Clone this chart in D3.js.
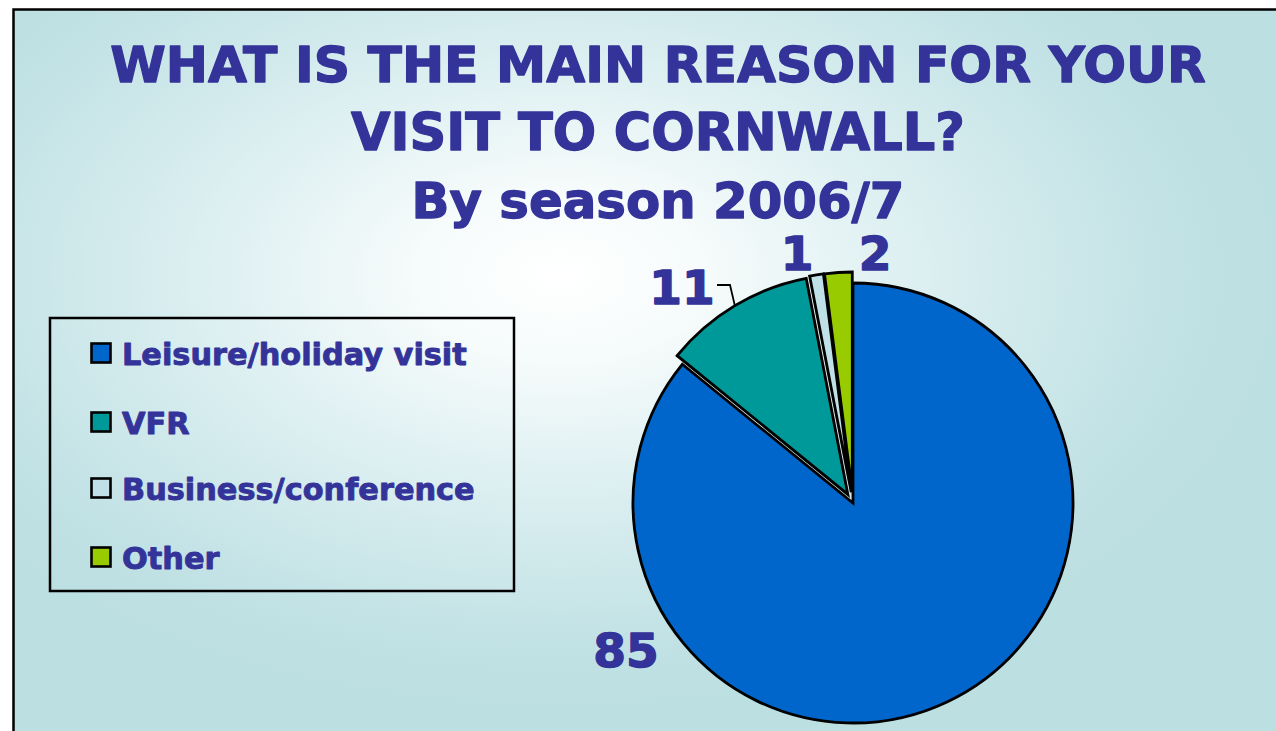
<!DOCTYPE html>
<html>
<head>
<meta charset="utf-8">
<script src="https://cdn.jsdelivr.net/npm/d3@7"></script>
<style>
  html, body { margin: 0; padding: 0; background: #ffffff; }
  svg { display: block; }
  text {
    font-family: "DejaVu Sans", Verdana, sans-serif; font-weight: bold;
    fill: #333399; stroke: #333399; stroke-linejoin: round;
  }
</style>
</head>
<body>
<svg id="chart" width="1276" height="731"></svg>
<script>
// Survey answers, per cent of visitors
const categories = ["Leisure/holiday visit", "VFR", "Business/conference", "Other"];
const values = [85, 11, 1, 2];
const colors = ["#0066cc", "#009999", "#bfe0e6", "#99cc00"];
// how far each slice is pulled out of the pie, px
const explode = [0, 10, 11, 11];
const titleLines = ["WHAT IS THE MAIN REASON FOR YOUR", "VISIT TO CORNWALL?", "By season 2006/7"];

const W = 1276, H = 731;
const svg = d3.select("#chart");

// background panel with a soft centre-lit gradient
const defs = svg.append("defs");
const grad = defs.append("radialGradient")
  .attr("id", "bg")
  .attr("gradientUnits", "userSpaceOnUse")
  .attr("cx", 0).attr("cy", 0).attr("r", 1)
  .attr("gradientTransform", "translate(560,275) scale(720,430)");
[[0, "#ffffff"], [0.2, "#f6fbfb"], [0.55, "#d8edef"], [0.85, "#c2e2e5"], [1, "#bcdfe2"]]
  .forEach(([o, c]) => grad.append("stop").attr("offset", o).attr("stop-color", c));

svg.append("rect")
  .attr("x", 13.5).attr("y", 9.5)
  .attr("width", W).attr("height", H)
  .attr("fill", "url(#bg)")
  .attr("stroke", "#000").attr("stroke-width", 2.5);

// helper: scale a text's font size so that it spans a given width
function fitWidth(sel, target) {
  const base = parseFloat(sel.style("font-size"));
  const w = sel.node().getComputedTextLength();
  sel.style("font-size", (base * target / w) + "px");
}

// title
const titleSpec = [
  { y: 82, w: 1096 },
  { y: 150, w: 614 },
  { y: 218, w: 493 }
];
titleLines.forEach((t, i) => {
  const s = svg.append("text")
    .attr("x", 658).attr("y", titleSpec[i].y)
    .attr("text-anchor", "middle")
    .style("font-size", "56px")
    .style("stroke-width", "1.3px")
    .text(t);
  fitWidth(s, titleSpec[i].w);
});

// pie
const cx = 853, cy = 503, R = 220;
const pie = d3.pie().sort(null).value(d => d)(values);
const arc = d3.arc().innerRadius(0).outerRadius(R);
const mid = d => (d.startAngle + d.endAngle) / 2;

const slices = svg.append("g").attr("transform", `translate(${cx},${cy})`);
slices.selectAll("path")
  .data(pie)
  .join("path")
  .attr("transform", (d, i) =>
    `translate(${explode[i] * Math.sin(mid(d))},${-explode[i] * Math.cos(mid(d))})`)
  .attr("d", arc)
  .attr("fill", (d, i) => colors[i])
  .attr("stroke", "#000")
  .attr("stroke-width", 2.8)
  .attr("stroke-linejoin", "miter");

// value labels
const labelPos = [
  { x: 626, y: 667 },
  { x: 682, y: 304 },
  { x: 797, y: 270 },
  { x: 875, y: 270 }
];
svg.append("g").selectAll("text")
  .data(values)
  .join("text")
  .attr("x", (d, i) => labelPos[i].x)
  .attr("y", (d, i) => labelPos[i].y)
  .attr("text-anchor", "middle")
  .style("font-size", "47px")
  .style("stroke-width", "1.4px")
  .text(d => d);

// leader line for the VFR label, ending on the slice's outer edge
{
  const d = pie[1], a = mid(d), e = explode[1];
  const ex = cx + (e + R) * Math.sin(a);
  const ey = cy - (e + R) * Math.cos(a);
  svg.append("path")
    .attr("d", `M717,285 L730,285 L${ex},${ey}`)
    .attr("fill", "none")
    .attr("stroke", "#000")
    .attr("stroke-width", 1.8);
}

// legend
const legend = svg.append("g");
legend.append("rect")
  .attr("x", 50).attr("y", 318)
  .attr("width", 464).attr("height", 273)
  .attr("fill", "none")
  .attr("stroke", "#000").attr("stroke-width", 2.5);

const rowY = [353, 422, 488, 557];
const items = legend.selectAll("g.item")
  .data(categories)
  .join("g").attr("class", "item");
items.append("rect")
  .attr("x", 91.5).attr("y", (d, i) => rowY[i] - 9.5)
  .attr("width", 19).attr("height", 19)
  .attr("fill", (d, i) => colors[i])
  .attr("stroke", "#000").attr("stroke-width", 2.6);
items.append("text")
  .attr("x", 122).attr("y", (d, i) => rowY[i] + 12)
  .style("font-size", "31px")
  .style("stroke-width", "0.9px")
  .text(d => d);
fitWidth(items.select("text").filter((d, i) => i === 0), 345);
const legendSize = items.select("text").filter((d, i) => i === 0).style("font-size");
items.selectAll("text").style("font-size", legendSize);
</script>
</body>
</html>
